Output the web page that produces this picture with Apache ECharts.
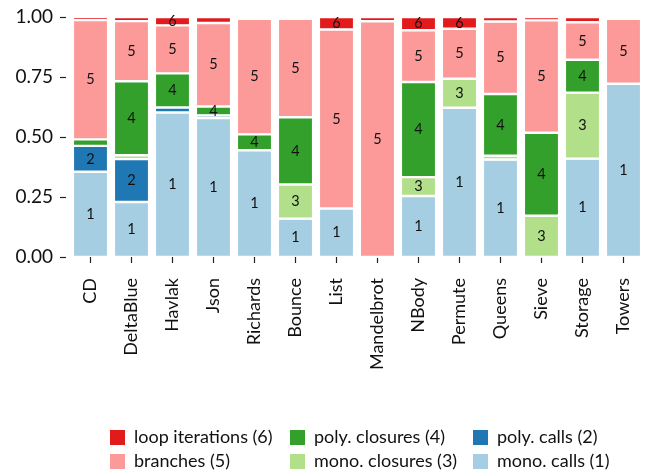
<!DOCTYPE html>
<html>
<head>
<meta charset="utf-8">
<script src="https://cdn.jsdelivr.net/npm/echarts@6/dist/echarts.min.js"></script>
<style>html,body{margin:0;padding:0;background:#fff;}#c{width:651px;height:471px;}</style>
</head>
<body>
<div id="c"></div>
<script>
var categories = ['CD','DeltaBlue','Havlak','Json','Richards','Bounce','List','Mandelbrot','NBody','Permute','Queens','Sieve','Storage','Towers'];
var monoCalls     = [0.355,0.229,0.602,0.579,0.445,0.160,0.202,0.000,0.254,0.622,0.406,0.000,0.410,0.722];
var polyCalls     = [0.108,0.179,0.021,0.011,0.000,0.000,0.000,0.000,0.000,0.000,0.000,0.000,0.000,0.000];
var monoClosures  = [0.000,0.016,0.000,0.000,0.000,0.142,0.000,0.000,0.079,0.121,0.016,0.172,0.275,0.000];
var polyClosures  = [0.027,0.308,0.142,0.037,0.066,0.280,0.000,0.000,0.396,0.000,0.257,0.346,0.137,0.000];
var branches      = [0.497,0.251,0.200,0.348,0.482,0.411,0.746,0.982,0.216,0.208,0.302,0.468,0.156,0.271];
var loopIters     = [0.013,0.017,0.035,0.025,0.007,0.007,0.052,0.018,0.055,0.049,0.019,0.014,0.022,0.007];
var yTicks = [0, 0.25, 0.5, 0.75, 1.0];

var FONT = 'Lato';
var seriesDefs = [
  {name:'mono. calls (1)', data:monoCalls, color:'#a6cee3', num:'1'},
  {name:'poly. calls (2)', data:polyCalls, color:'#1f78b4', num:'2'},
  {name:'mono. closures (3)', data:monoClosures, color:'#b2df8a', num:'3'},
  {name:'poly. closures (4)', data:polyClosures, color:'#33a02c', num:'4'},
  {name:'branches (5)', data:branches, color:'#fb9a99', num:'5'},
  {name:'loop iterations (6)', data:loopIters, color:'#e31a1c', num:'6'}
];
var series = seriesDefs.map(function(s){
  return {
    name: s.name, type:'bar', stack:'total', data: s.data,
    barCategoryGap: '14%',
    itemStyle: {color: s.color, borderColor:'#ffffff', borderWidth:1.2},
    label: {show:true, position:'inside', color:'#111', fontFamily:FONT, fontSize:14.5,
      formatter: function(p){ return p.value >= 0.03 ? s.num : ''; }},
    emphasis:{disabled:true}
  };
});
function mkLegend(left, data){
  return {orient:'vertical', left:left, top:428, padding:0, itemWidth:17, itemHeight:17, itemGap:5, icon:'rect',
    textStyle:{fontFamily:FONT, fontSize:18, lineHeight:17, color:'#111', padding:[0,0,0,3]},
    selectedMode:false, data:data};
}
var chart = echarts.init(document.getElementById('c'), null, {renderer:'canvas'});
chart.setOption({
  animation:false,
  backgroundColor:'#fff',
  grid:{left:70, right:7, top:17, bottom:214, containLabel:false},
  legend:[
    mkLegend(108, ['loop iterations (6)','branches (5)']),
    mkLegend(288, ['poly. closures (4)','mono. closures (3)']),
    mkLegend(471, ['poly. calls (2)','mono. calls (1)'])
  ],
  xAxis:{type:'category', data:categories, offset:12,
    axisLine:{show:false}, axisTick:{show:true, alignWithLabel:true, length:6, lineStyle:{color:'#222', width:1.2}},
    axisLabel:{rotate:90, margin:9, fontFamily:FONT, fontSize:18, color:'#111', interval:0}},
  yAxis:{type:'value', min:0, max:1, interval:0.25, offset:4,
    axisLine:{show:false}, splitLine:{show:false},
    axisTick:{show:true, length:6, lineStyle:{color:'#222', width:1.2}},
    axisLabel:{margin:13, fontFamily:FONT, fontSize:19, color:'#111', formatter:function(v){return v.toFixed(2);}}},
  series: series
});
</script>
</body>
</html>
